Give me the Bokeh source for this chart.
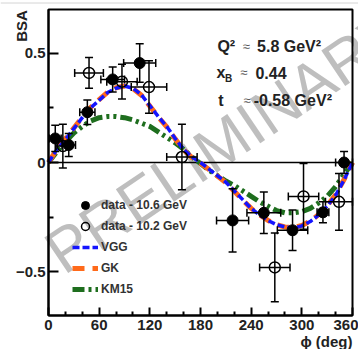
from bokeh.plotting import figure
from bokeh.models import (Range1d, FixedTicker, Whisker, TeeHead, ColumnDataSource,
                          Label, Legend, LegendItem, LinearAxis, BoxAnnotation, Span)
from bokeh.embed import file_html
from bokeh.resources import INLINE

# ---- data: 10.6 GeV (filled) ----
phi_a = [8, 24, 46, 76, 108, 218, 255, 289, 325, 350]
bsa_a = [0.11, 0.08, 0.23, 0.38, 0.455, -0.265, -0.23, -0.31, -0.228, 0.0]
dy_a = [0.06, 0.053, 0.056, 0.057, 0.088, 0.145, 0.095, 0.093, 0.048, 0.05]
dx_a = [7, 8, 9, 14, 19, 19, 20, 18, 7, 10]

# ---- data: 10.2 GeV (open) ----
phi_b = [17, 48, 87, 119, 158, 268, 302, 344]
bsa_b = [0.075, 0.41, 0.37, 0.345, 0.025, -0.48, -0.155, -0.18]
dy_b = [0.10, 0.07, 0.08, 0.12, 0.15, 0.157, 0.15, 0.13]
dx_b = [8, 17, 18, 21, 18, 18, 18, 16]

# ---- model curves ----
phi_th = [0, 10, 20, 30, 40, 50, 60, 70, 80, 90, 100, 110, 120, 130, 140, 150, 160, 170,
          180, 190, 200, 210, 220, 230, 240, 250, 260, 270, 280, 290, 300, 310, 320, 330,
          340, 350, 360]
vgg = [0.0, 0.06, 0.105, 0.155, 0.205, 0.25, 0.285, 0.32, 0.34, 0.35, 0.34, 0.31, 0.26,
       0.21, 0.165, 0.11, 0.06, 0.025, 0.0, -0.03, -0.06, -0.09, -0.13, -0.17, -0.21,
       -0.24, -0.265, -0.285, -0.295, -0.30, -0.29, -0.27, -0.24, -0.20, -0.15, -0.08, 0.0]
gk = [0.0, 0.062, 0.108, 0.158, 0.207, 0.252, 0.288, 0.322, 0.342, 0.35, 0.338, 0.308,
      0.258, 0.208, 0.163, 0.108, 0.058, 0.022, -0.003, -0.032, -0.062, -0.092, -0.132,
      -0.172, -0.21, -0.24, -0.265, -0.285, -0.295, -0.298, -0.288, -0.268, -0.238,
      -0.198, -0.148, -0.078, 0.0]
km15 = [0.0, 0.05, 0.095, 0.135, 0.165, 0.19, 0.205, 0.21, 0.21, 0.205, 0.195, 0.18,
        0.165, 0.14, 0.115, 0.09, 0.06, 0.025, -0.005, -0.035, -0.06, -0.085, -0.105,
        -0.13, -0.155, -0.18, -0.20, -0.22, -0.23, -0.23, -0.225, -0.21, -0.185, -0.155,
        -0.11, -0.055, 0.0]

x_ticks = [0, 60, 120, 180, 240, 300, 360]
x_minor = [20, 40, 80, 100, 140, 160, 200, 220, 260, 280, 320, 340]
y_ticks = [-0.5, 0, 0.5]
y_minor = [-0.25, 0.25]
y_tick_labels = {-0.5: "\u22120.5", 0: "0", 0.5: "0.5"}

X_LO, X_HI = 0, 360
Y_LO, Y_HI = -0.7, 0.7

FONT = "Liberation Sans"
TXT = "#222222"

# the frame fills the canvas; the axes sit at fixed data locations
W, H = 358, 349
FL, FR, FT, FB = 48, 352, 9, 315          # inner box in pixels
sx = (FR - FL) / (X_HI - X_LO)
sy = (FB - FT) / (Y_HI - Y_LO)
x_range = Range1d(X_LO - FL / sx, X_HI + (W - FR) / sx)
y_range = Range1d(Y_LO - (H - FB) / sy, Y_HI + FT / sy)

p = figure(width=W, height=H, x_range=x_range, y_range=y_range,
           output_backend="svg", toolbar_location=None, title=None,
           x_axis_location=None, y_axis_location=None, min_border=0)
p.grid.visible = False
p.background_fill_color = "white"
p.border_fill_color = "white"
p.outline_line_color = None

# faint page edge line at the very top
p.add_layout(Span(location=Y_HI + (FT - 2.5) / sy, dimension="width",
                  line_color="#d4d4d4", line_width=1))

xaxis = LinearAxis(fixed_location=Y_LO, bounds=(X_LO, X_HI),
                   ticker=FixedTicker(ticks=x_ticks, minor_ticks=x_minor))
yaxis = LinearAxis(fixed_location=X_LO, bounds=(Y_LO, Y_HI),
                   ticker=FixedTicker(ticks=y_ticks, minor_ticks=y_minor),
                   major_label_overrides=y_tick_labels)
for ax in (xaxis, yaxis):
    ax.axis_line_color = "black"
    ax.axis_line_width = 2
    ax.major_tick_line_color = "black"
    ax.minor_tick_line_color = "black"
    ax.major_tick_line_width = 2
    ax.minor_tick_line_width = 2
    ax.major_tick_out = 0
    ax.minor_tick_out = 0
    ax.major_label_text_font = FONT
    ax.major_label_text_font_style = "bold"
    ax.major_label_text_font_size = "15px"
    ax.major_label_text_color = TXT
xaxis.major_tick_in = 8
xaxis.minor_tick_in = 4
yaxis.major_tick_in = 10
yaxis.minor_tick_in = 5
xaxis.major_label_standoff = 4
yaxis.major_label_standoff = 3
p.add_layout(xaxis, "below")
p.add_layout(yaxis, "left")

# watermark
p.add_layout(Label(x=210, y=0.10, text="PRELIMINARY", angle=34, angle_units="deg",
                   text_align="center", text_baseline="middle", text_font=FONT,
                   text_font_size="62px", text_color="#a8a8a8", text_alpha=0.75,
                   level="underlay"))

# inner box
p.add_layout(BoxAnnotation(left=X_LO, right=X_HI, bottom=Y_LO, top=Y_HI,
                           fill_alpha=0, line_color="black", line_width=2, line_alpha=1))

# zero line
p.segment(x0=[X_LO], x1=[X_HI], y0=[0], y1=[0], line_color="black", line_width=1.5)

# curves
r_km = p.line(phi_th, km15, line_color="#1e6e1e", line_width=5, line_dash="12 4 3 4 3 4")
r_gk = p.line(phi_th, gk, line_color="#ff6a1a", line_width=5, line_dash="12 8")
r_vgg = p.line(phi_th, vgg, line_color="#1414ff", line_width=3.5, line_dash="7 3")

# error bars
def add_errors(phi, bsa, dy, dx):
    src = ColumnDataSource(dict(
        phi=phi, bsa=bsa,
        ylo=[b - e for b, e in zip(bsa, dy)], yhi=[b + e for b, e in zip(bsa, dy)],
        xlo=[f - e for f, e in zip(phi, dx)], xhi=[f + e for f, e in zip(phi, dx)]))
    for base, lo, hi, dim in (("phi", "ylo", "yhi", "height"), ("bsa", "xlo", "xhi", "width")):
        p.add_layout(Whisker(source=src, base=base, lower=lo, upper=hi, dimension=dim,
                             line_color="black", line_width=1.5,
                             lower_head=TeeHead(size=8, line_width=1.5, line_color="black"),
                             upper_head=TeeHead(size=8, line_width=1.5, line_color="black"),
                             level="glyph"))
    return src

src_a = add_errors(phi_a, bsa_a, dy_a, dx_a)
src_b = add_errors(phi_b, bsa_b, dy_b, dx_b)
r_a = p.scatter("phi", "bsa", source=src_a, marker="circle", size=11,
                fill_color="black", line_color="black")
r_b = p.scatter("phi", "bsa", source=src_b, marker="circle", size=11,
                fill_color=None, line_color="black", line_width=1.5)

# legend
legend = Legend(items=[
    LegendItem(label="data - 10.6 GeV", renderers=[r_a]),
    LegendItem(label="data - 10.2 GeV", renderers=[r_b]),
    LegendItem(label="VGG", renderers=[r_vgg]),
    LegendItem(label="GK", renderers=[r_gk]),
    LegendItem(label="KM15", renderers=[r_km]),
], location=(72, 50), padding=0, margin=0, spacing=1, glyph_width=26, glyph_height=20,
    label_height=20, label_standoff=3, border_line_alpha=0, background_fill_alpha=0,
    label_text_font=FONT, label_text_font_style="bold", label_text_font_size="12px",
    label_text_color="#333333")
p.add_layout(legend)

# kinematics text
lab = dict(text_font=FONT, text_font_style="bold", text_font_size="16px",
           text_color=TXT, text_baseline="middle")
aprx = dict(text_font=FONT, text_font_size="13px", text_color="#555555",
            text_baseline="middle")
p.add_layout(Label(x=200, y=0.532, text="Q\u00b2", **lab))
p.add_layout(Label(x=230, y=0.532, text="\u2248", **aprx))
p.add_layout(Label(x=247, y=0.532, text="5.8 GeV\u00b2", **lab))
p.add_layout(Label(x=199, y=0.41, text="x", **lab))
p.add_layout(Label(x=209, y=0.385, text="B", text_font=FONT, text_font_style="bold",
                   text_font_size="10px", text_color=TXT, text_baseline="middle"))
p.add_layout(Label(x=227, y=0.41, text="\u2248", **aprx))
p.add_layout(Label(x=245, y=0.41, text="0.44", **lab))
p.add_layout(Label(x=201, y=0.284, text="t", **lab))
p.add_layout(Label(x=231, y=0.284, text="\u2248", **aprx))
p.add_layout(Label(x=243, y=0.284, text="-0.58 GeV\u00b2", **lab))

# axis titles
p.add_layout(Label(x=-32, y=0.697, text="BSA", angle=90, angle_units="deg",
                   text_align="right", text_baseline="middle", text_font=FONT,
                   text_font_style="bold", text_font_size="15px", text_color=TXT))
p.add_layout(Label(x=360, y=-0.821, text="\u03d5 (deg)", text_align="right",
                   text_baseline="middle", text_font=FONT, text_font_style="bold",
                   text_font_size="15px", text_color=TXT))

open("out.html", "w").write(file_html(p, INLINE))
